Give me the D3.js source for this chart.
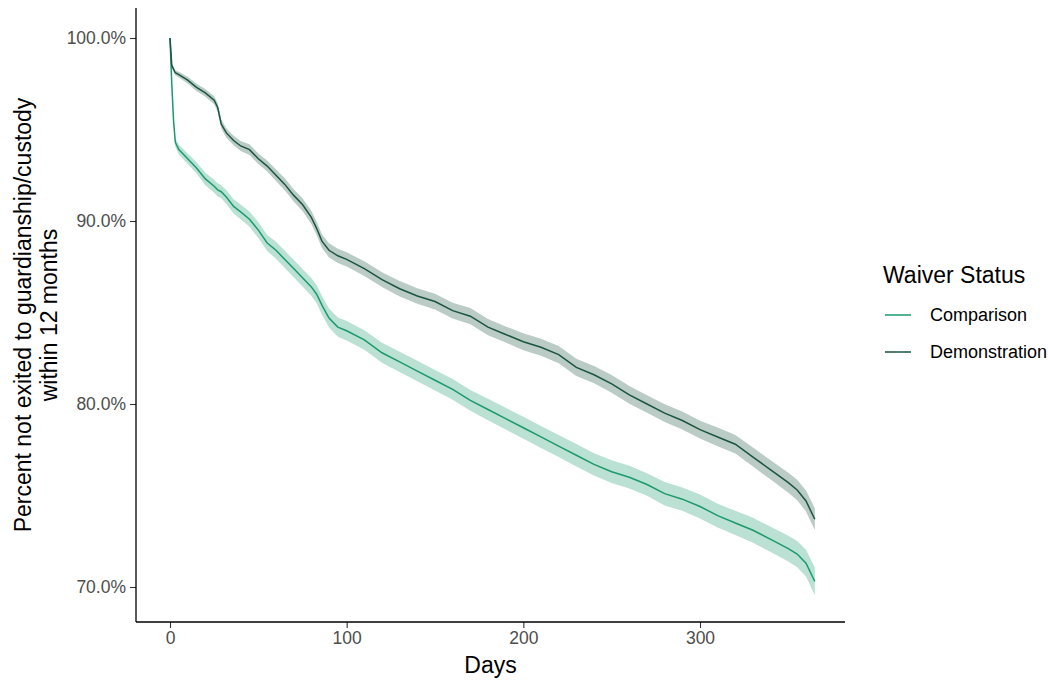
<!DOCTYPE html>
<html>
<head>
<meta charset="utf-8">
<script src="https://cdn.jsdelivr.net/npm/d3@7"></script>
<style>
  body { margin: 0; background: #fff; }
  svg { font-family: "Liberation Sans", Arial, sans-serif; }
</style>
</head>
<body>
<svg id="chart" width="1048" height="682"></svg>
<script>
const days = [0, 1, 2, 3, 5, 10, 15, 20, 25, 27, 29, 32, 36, 40, 45, 50, 55, 60, 65, 70, 75, 80, 83, 86, 90, 95,
    100, 110, 120, 130, 140, 150, 160, 170, 180, 190, 200, 210, 220, 230, 240, 250, 260, 270, 280, 290,
    300, 310, 320, 330, 340, 350, 355, 360, 365];

// percent not exited
const demonstration = [100, 98.5, 98.3, 98.1, 98.0, 97.7, 97.3, 97.0, 96.6, 96.2, 95.3, 94.8, 94.4, 94.1, 93.9, 93.4,
    93.0, 92.5, 92.0, 91.4, 90.9, 90.2, 89.6, 88.9, 88.4, 88.1,
    87.9, 87.4, 86.8, 86.3, 85.9, 85.6, 85.1, 84.8, 84.2, 83.8, 83.4, 83.1, 82.7, 82.0, 81.6, 81.1, 80.5, 80.0, 79.5, 79.1,
    78.6, 78.2, 77.8, 77.1, 76.4, 75.7, 75.3, 74.7, 73.7];
const comparison = [100, 97.5, 95.5, 94.3, 93.9, 93.4, 92.9, 92.3, 91.9, 91.7, 91.6, 91.3, 90.8, 90.5, 90.1, 89.5,
    88.8, 88.4, 87.9, 87.4, 86.9, 86.4, 86.0, 85.4, 84.7, 84.2,
    84.0, 83.5, 82.8, 82.3, 81.8, 81.3, 80.8, 80.2, 79.7, 79.2, 78.7, 78.2, 77.7, 77.2, 76.7, 76.3, 76.0, 75.6, 75.1, 74.8,
    74.4, 73.9, 73.5, 73.1, 72.6, 72.1, 71.8, 71.3, 70.3];

// half width of the confidence band (percentage points)
const demonstrationCI = [0, 0.13, 0.13, 0.13, 0.16, 0.18, 0.2, 0.21, 0.22, 0.23, 0.25, 0.26, 0.26, 0.27, 0.29, 0.29,
    0.3, 0.31, 0.33, 0.34, 0.35, 0.36, 0.36, 0.38, 0.39, 0.39,
    0.39, 0.4, 0.4, 0.42, 0.42, 0.43, 0.43, 0.44, 0.44, 0.44, 0.46, 0.46, 0.47, 0.47, 0.47, 0.48, 0.48, 0.48, 0.49, 0.49,
    0.49, 0.51, 0.51, 0.52, 0.53, 0.55, 0.56, 0.57, 0.6];
const comparisonCI = [0, 0.16, 0.2, 0.23, 0.26, 0.29, 0.31, 0.34, 0.35, 0.36, 0.36, 0.38, 0.39, 0.4, 0.42, 0.43,
    0.44, 0.46, 0.47, 0.48, 0.48, 0.49, 0.49, 0.51, 0.52, 0.52,
    0.53, 0.53, 0.55, 0.55, 0.56, 0.56, 0.57, 0.57, 0.59, 0.59, 0.6, 0.6, 0.6, 0.61, 0.61, 0.62, 0.62, 0.62, 0.64, 0.64,
    0.65, 0.65, 0.66, 0.68, 0.69, 0.7, 0.72, 0.73, 0.75];

const xTicks = [0, 100, 200, 300];
const yTicks = [70, 80, 90, 100];
const seriesNames = ["Comparison", "Demonstration"];
const seriesColors = ["#1b9a6c", "#1a553f"];

let svg = d3.select("#chart");
let panel = {left: 136, right: 845, top: 8, bottom: 622};

let x = d3.scaleLinear().domain([0, 300]).range([170, 700]);
let y = d3.scaleLinear().domain([70, 100]).range([587, 38]);

let series = [
    {name: seriesNames[0], values: comparison, ci: comparisonCI, color: seriesColors[0]},
    {name: seriesNames[1], values: demonstration, ci: demonstrationCI, color: seriesColors[1]}
];

let area = d3.area()
    .x((d) => x(d.day))
    .y0((d) => y(d.v - d.ci))
    .y1((d) => y(d.v + d.ci));
let line = d3.line()
    .x((d) => x(d.day))
    .y((d) => y(d.v));

series.forEach((s) => {
    let pts = days.map((d, i) => ({day: d, v: s.values[i], ci: s.ci[i]}));
    svg.append("path")
        .datum(pts)
        .attr("d", area)
        .attr("fill", s.color)
        .attr("fill-opacity", 0.3);
    s.pts = pts;
});
series.forEach((s) => {
    svg.append("path")
        .datum(s.pts)
        .attr("d", line)
        .attr("fill", "none")
        .attr("stroke", s.color)
        .attr("stroke-width", 1.5);
});

// axes
let gx = svg.append("g")
    .attr("transform", "translate(0," + panel.bottom + ")")
    .call(d3.axisBottom(x).tickValues(xTicks).tickSize(6).tickPadding(4));
let gy = svg.append("g")
    .attr("transform", "translate(" + panel.left + ",0)")
    .call(d3.axisLeft(y).tickValues(yTicks).tickSize(6).tickPadding(4)
        .tickFormat((d) => d.toFixed(1) + "%"));
[gx, gy].forEach((g) => {
    g.select(".domain").remove();
    g.selectAll(".tick line").attr("stroke", "#333").attr("stroke-width", 1.1);
    g.selectAll(".tick text")
        .attr("fill", "#4d4d4d")
        .style("font-size", "17.5px")
        .style("font-family", "'Liberation Sans', Arial, sans-serif");
});

svg.append("line")
    .attr("x1", panel.left).attr("x2", panel.right)
    .attr("y1", panel.bottom).attr("y2", panel.bottom)
    .attr("stroke", "#000").attr("stroke-width", 1.3);
svg.append("line")
    .attr("x1", panel.left).attr("x2", panel.left)
    .attr("y1", panel.top).attr("y2", panel.bottom)
    .attr("stroke", "#000").attr("stroke-width", 1.3);

// titles
svg.append("text")
    .attr("x", (panel.left + panel.right) / 2)
    .attr("y", 673)
    .attr("text-anchor", "middle")
    .style("font-size", "23px")
    .text("Days");

let yTitle = svg.append("text")
    .attr("transform", "translate(0," + (panel.top + panel.bottom) / 2 + ") rotate(-90)")
    .attr("text-anchor", "middle")
    .style("font-size", "23px");
yTitle.append("tspan").attr("x", 0).attr("y", 31).text("Percent not exited to guardianship/custody");
yTitle.append("tspan").attr("x", 0).attr("y", 57).text("within 12 months");

// legend
let legend = svg.append("g").attr("transform", "translate(883,0)");
legend.append("text")
    .attr("x", 0).attr("y", 283)
    .style("font-size", "23px")
    .text("Waiver Status");
series.forEach((s, i) => {
    let ly = 315 + i * 37;
    legend.append("line")
        .attr("x1", 2).attr("x2", 28)
        .attr("y1", ly).attr("y2", ly)
        .attr("stroke", s.color).attr("stroke-width", 1.5);
    legend.append("text")
        .attr("x", 47).attr("y", ly + 6)
        .style("font-size", "18px")
        .text(s.name);
});
</script>
</body>
</html>
